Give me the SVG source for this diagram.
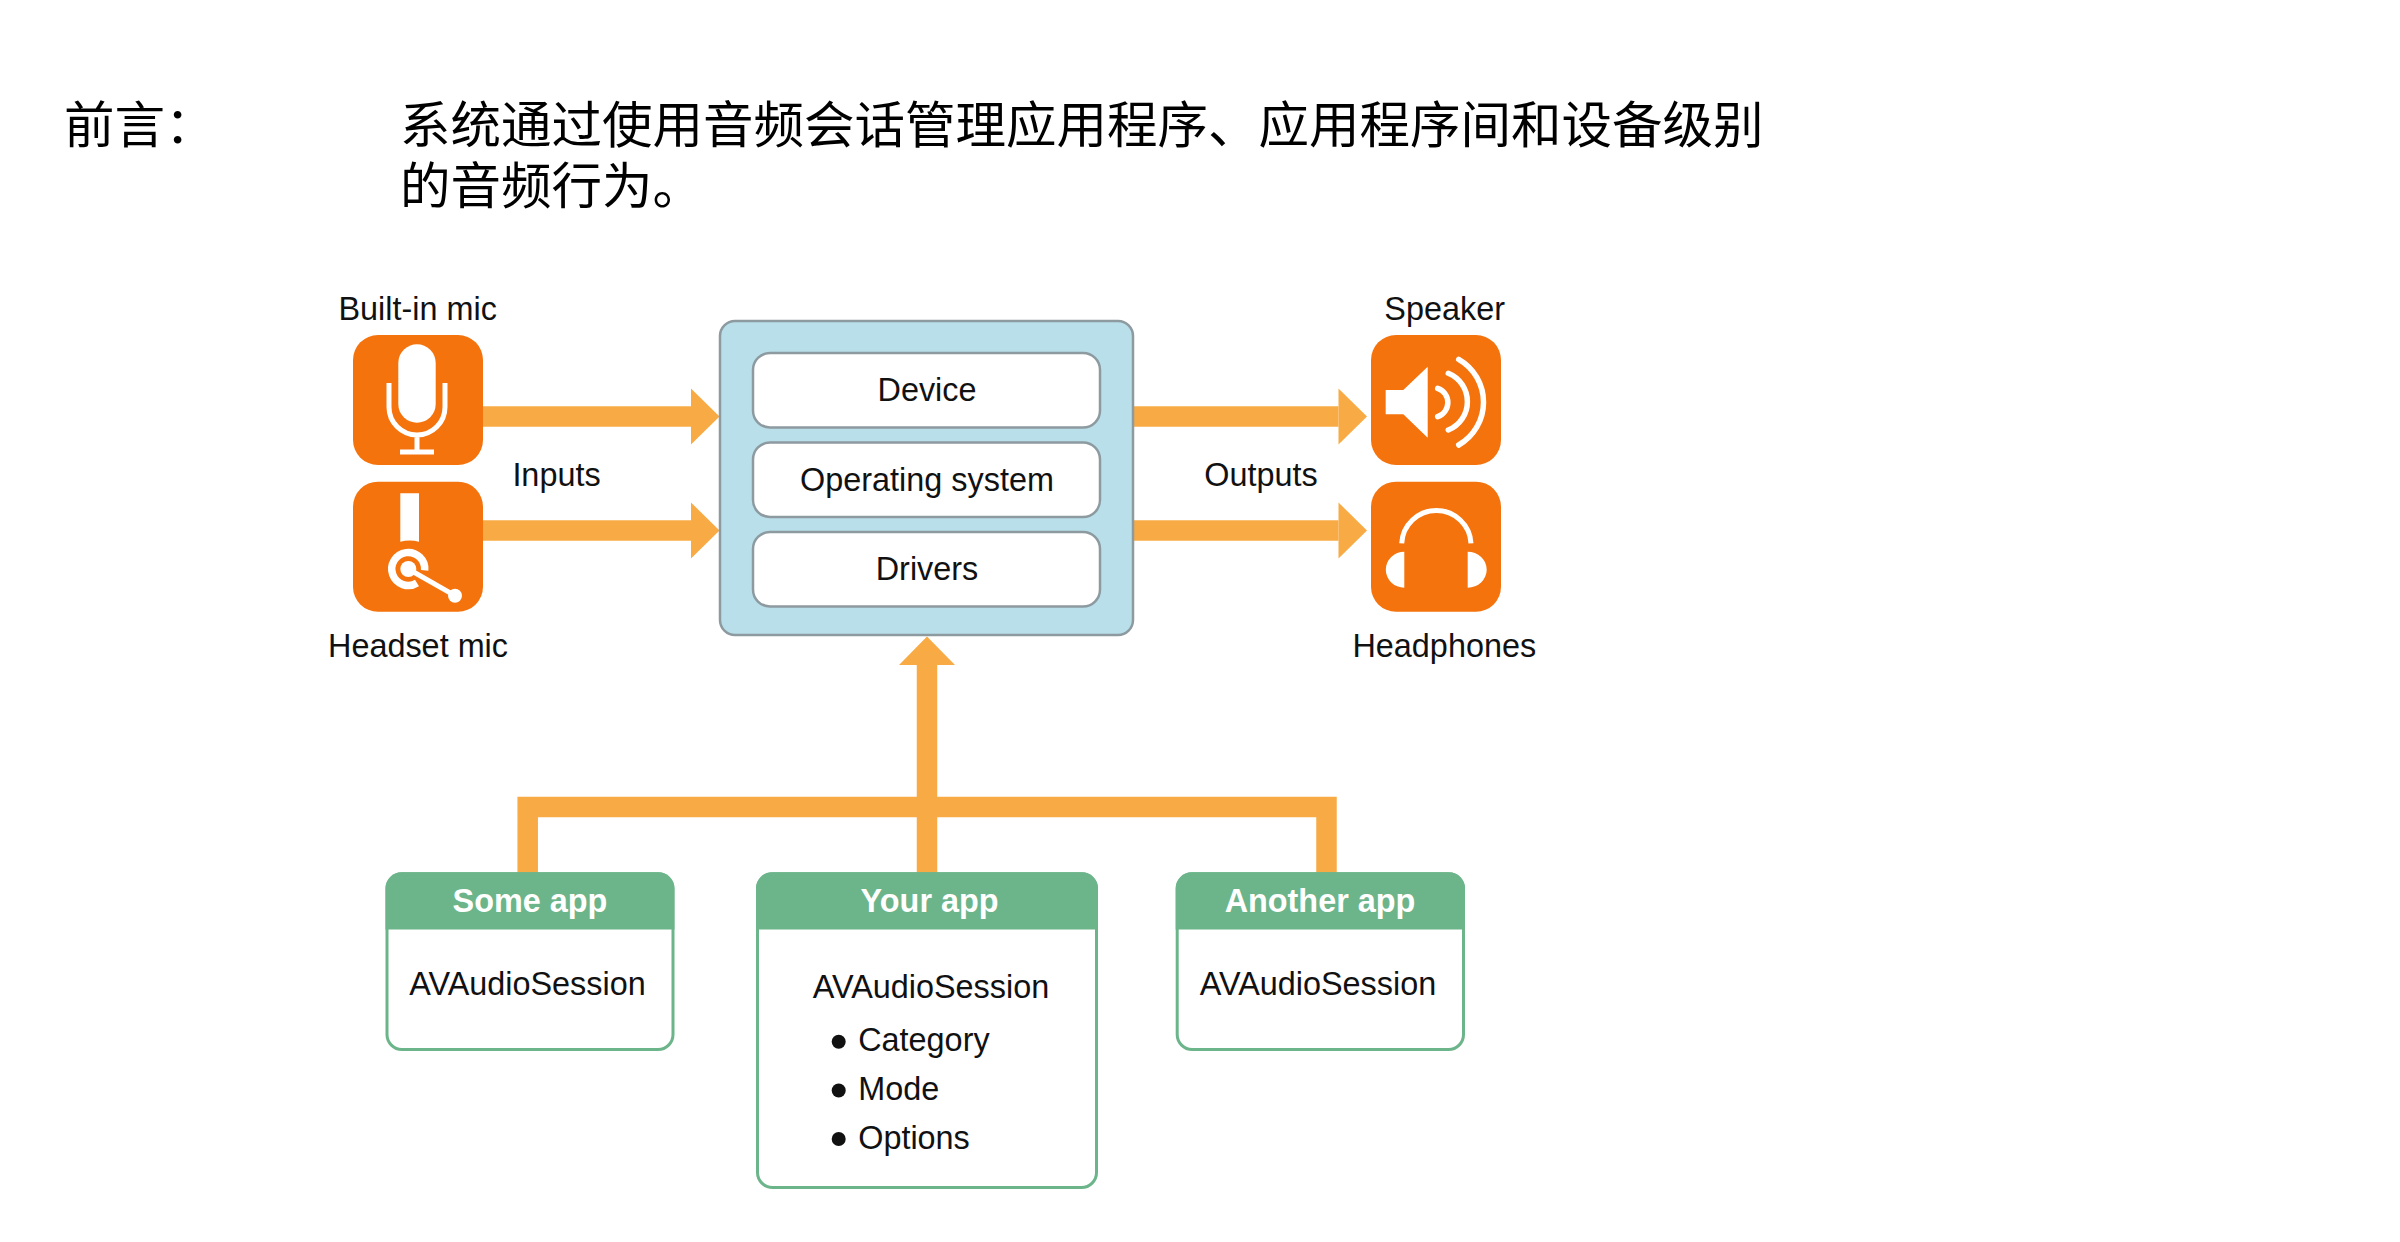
<svg xmlns="http://www.w3.org/2000/svg" width="2400" height="1242" viewBox="0 0 2400 1242">
<style>
text{font-family:"Liberation Sans",Arial,"Noto Sans CJK SC",sans-serif;font-size:32.4px;fill:#111;text-anchor:middle}
.cjk{font-family:"Noto Sans CJK SC",sans-serif;font-size:50.5px;fill:#000;text-anchor:start}
.left{text-anchor:start}
.hdr{font-weight:bold;fill:#fff}
.flow{fill:none;stroke:#f8ab44;stroke-width:20.5}
.icon{fill:#f4730d}
.w{fill:#fff}
.ws{fill:none;stroke:#fff;stroke-width:5}
.rs{stroke-linecap:round;stroke-width:5.5}
.layer{fill:#fff;stroke:#8d9aa0;stroke-width:2.5}
.body{fill:#fff;stroke:#6cb58a;stroke-width:3}
.head{fill:#6cb58a}
</style>
<defs>
<marker id="ah" markerUnits="userSpaceOnUse" markerWidth="29" markerHeight="57" refX="0" refY="28" orient="auto" overflow="visible"><path d="M0 0L28.5 28L0 56Z" fill="#f8ab44"/></marker>
</defs>
<rect width="2400" height="1242" fill="#fff"/>
<g id="intro">
<text class="cjk" x="64" y="143">前言：</text>
<text class="cjk" y="143"><tspan x="400" y="143">系统通过使用音频会话管理应用程序、应用程序间和设备级别</tspan><tspan x="400" y="204">的音频行为。</tspan></text>
</g>
<g id="connectors">
<path class="flow" d="M483 416.5H691" marker-end="url(#ah)"/>
<path class="flow" d="M483 530.5H691" marker-end="url(#ah)"/>
<path class="flow" d="M1134 416.5H1338.5" marker-end="url(#ah)"/>
<path class="flow" d="M1134 530.5H1338.5" marker-end="url(#ah)"/>
<path class="flow" d="M527.7 874V807H1326.5V874"/>
<path class="flow" d="M927 874V665" marker-end="url(#ah)"/>
</g>
<g id="built-in-mic">
<text x="417.7" y="319.5">Built-in mic</text>
<rect class="icon" x="353" y="335" width="130" height="130" rx="25"/>
<rect class="w" x="398.3" y="344.3" width="37.4" height="78.4" rx="18.7"/>
<path class="ws" d="M389 383V407A28 28 0 0 0 445 407V383M417 435V452M400 452H434"/>
</g>
<g id="headset-mic">
<text x="418" y="656.5">Headset mic</text>
<rect class="icon" x="353" y="481.7" width="130" height="130" rx="25"/>
<path class="w" d="M400.3 493.3H419V541.7Q409.6 539.5 400.3 541.7Z"/>
<path class="ws" style="stroke-width:7.5" d="M424.7 570.4A16.5 16.5 0 1 0 417 583"/>
<circle class="w" cx="408.3" cy="569" r="8"/>
<circle class="w" cx="455" cy="595.7" r="7"/>
<path class="ws" d="M408.3 569L455 595.7"/>
</g>
<g id="inputs-label"><text x="556.5" y="485.5">Inputs</text></g>
<g id="system">
<rect x="720" y="321" width="413" height="314" rx="15" fill="#b8dfea" stroke="#8d9aa0" stroke-width="2.5"/>
</g>
<g id="device">
<rect class="layer" x="753" y="353" width="347" height="74.5" rx="17"/>
<text x="927" y="400.5">Device</text>
</g>
<g id="operating-system">
<rect class="layer" x="753" y="442.5" width="347" height="74.5" rx="17"/>
<text x="927" y="490.5">Operating system</text>
</g>
<g id="drivers">
<rect class="layer" x="753" y="532" width="347" height="74.5" rx="17"/>
<text x="927" y="579.5">Drivers</text>
</g>
<g id="outputs-label"><text x="1261" y="485.5">Outputs</text></g>
<g id="speaker">
<text x="1444.7" y="319.5">Speaker</text>
<rect class="icon" x="1371" y="335" width="130" height="130" rx="25"/>
<path class="w" d="M1385.7 390H1403.3L1427.7 366.7V437.7L1403.3 414.3H1385.7Z"/>
<path class="ws rs" d="M1437.7 388.3A15 15 0 0 1 1437.7 416.7M1448.3 373.3A30.6 30.6 0 0 1 1448.3 430M1458.7 359.3A49.4 49.4 0 0 1 1458.7 445"/>
</g>
<g id="headphones">
<text x="1444.3" y="656.5">Headphones</text>
<rect class="icon" x="1371" y="481.7" width="130" height="130" rx="25"/>
<path class="ws" d="M1401.7 543.3A34.7 34.7 0 0 1 1471 543.3"/>
<path class="w" d="M1404.3 551.7V587.7A18.5 18 0 0 1 1404.3 551.7ZM1467.7 551.7V587.7A19 18 0 0 0 1467.7 551.7Z"/>
</g>
<g id="some-app">
<rect class="body" x="387" y="873.8" width="286" height="175.7" rx="15"/>
<path class="head" d="M385.5 929.5V888A15.7 15.7 0 0 1 401.2 872.3H658.7A15.7 15.7 0 0 1 674.4 888V929.5Z"/>
<text class="hdr" x="530" y="911.5">Some app</text>
<text x="527.5" y="994.5">AVAudioSession</text>
</g>
<g id="your-app">
<rect class="body" x="757.5" y="873.8" width="339" height="313.7" rx="15"/>
<path class="head" d="M756 929.5V888A15.7 15.7 0 0 1 771.7 872.3H1082.3A15.7 15.7 0 0 1 1098 888V929.5Z"/>
<text class="hdr" x="929.6" y="911.5">Your app</text>
<text x="931" y="997.5">AVAudioSession</text>
<circle cx="838.7" cy="1041.7" r="7" fill="#111"/>
<text class="left" x="858.2" y="1051">Category</text>
<circle cx="838.7" cy="1090.5" r="7" fill="#111"/>
<text class="left" x="858.2" y="1100">Mode</text>
<circle cx="838.7" cy="1139" r="7" fill="#111"/>
<text class="left" x="858.2" y="1149">Options</text>
</g>
<g id="another-app">
<rect class="body" x="1177.2" y="873.8" width="286.3" height="175.7" rx="15"/>
<path class="head" d="M1175.7 929.5V888A15.7 15.7 0 0 1 1191.4 872.3H1449.3A15.7 15.7 0 0 1 1465 888V929.5Z"/>
<text class="hdr" x="1320" y="911.5">Another app</text>
<text x="1318" y="994.5">AVAudioSession</text>
</g>
</svg>
